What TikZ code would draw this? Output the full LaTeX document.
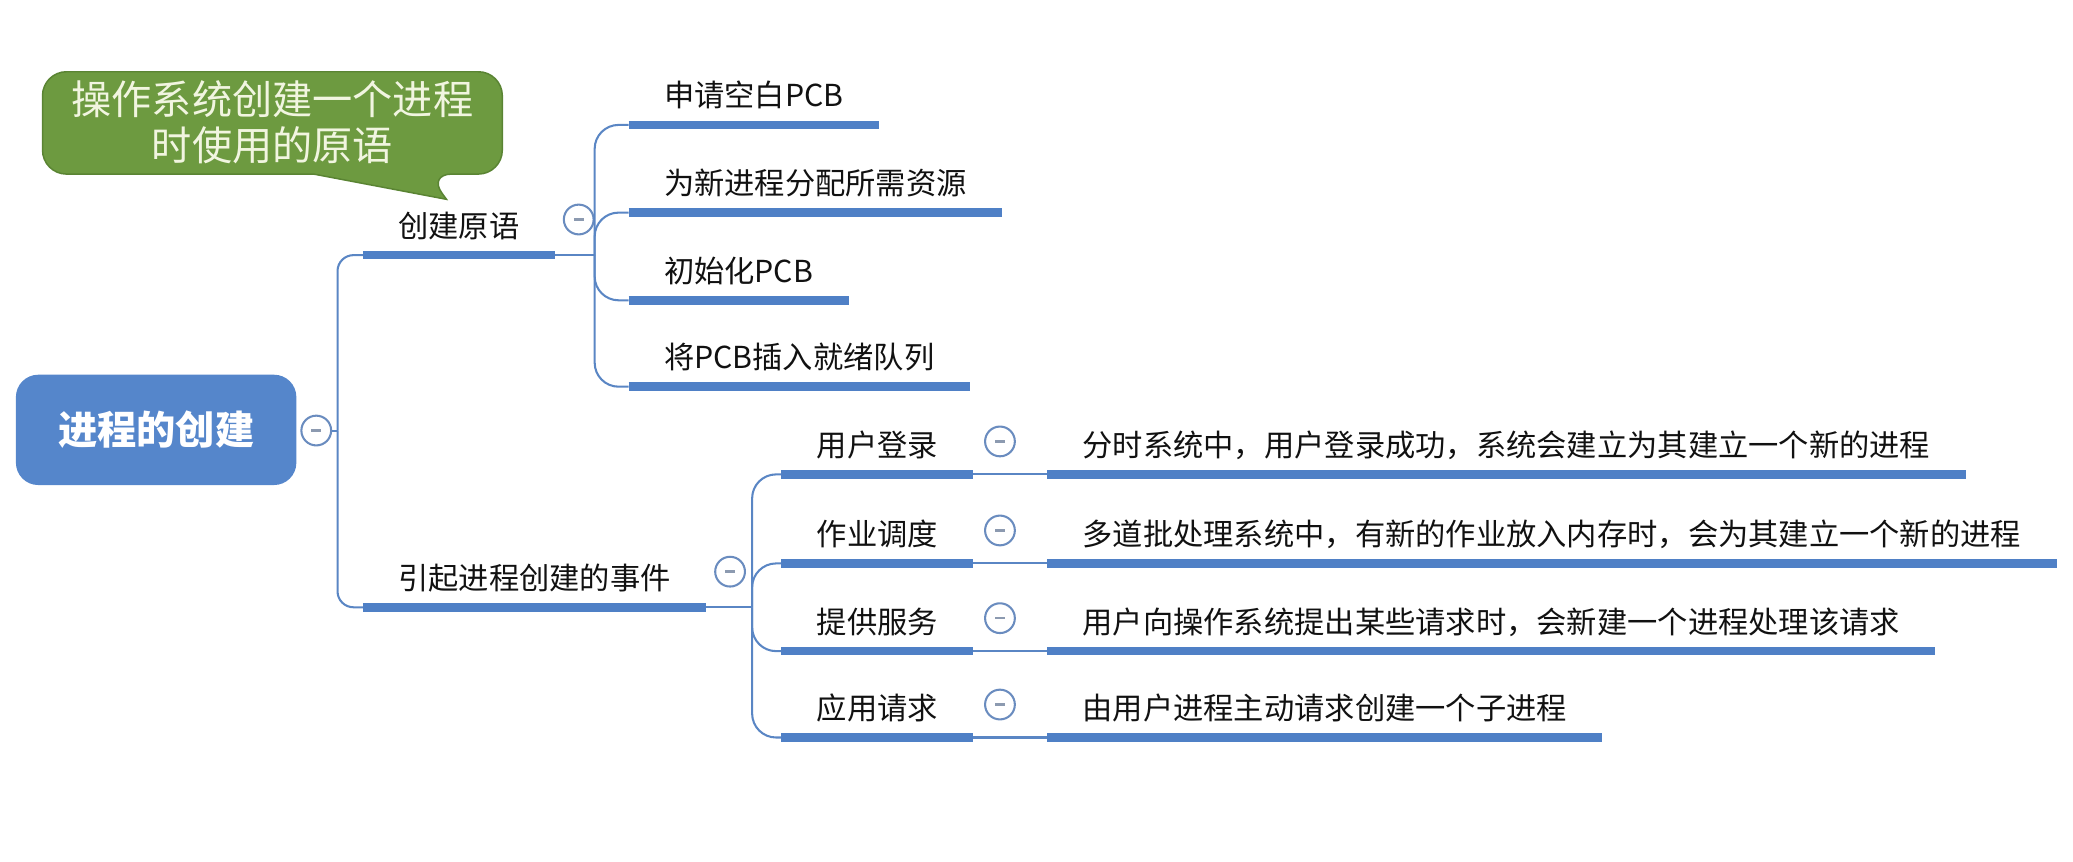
\documentclass[tikz,border=0pt]{standalone}
\usepackage{fontspec}
\setmainfont{Noto Sans CJK SC}
\usetikzlibrary{calc}

\definecolor{barblue}{HTML}{4F80C6}
\definecolor{linkblue}{HTML}{5A86C4}
\definecolor{rootblue}{HTML}{5586CB}
\definecolor{foldring}{HTML}{6A8CBF}
\definecolor{foldbar}{HTML}{8C9AB0}
\definecolor{tipgreen}{HTML}{6D9A40}
\definecolor{tipedge}{HTML}{5A8433}
\definecolor{tipink}{HTML}{F1F5E0}
\definecolor{inkc}{HTML}{111111}

\providecommand{\topicfont}{\fontsize{16.2}{20}\selectfont}
\providecommand{\rootfont}{\fontsize{21}{25}\selectfont}
\providecommand{\tipfont}{\fontsize{21.5}{24.8}\selectfont}

\tikzset{
  bar/.style={draw=barblue, line width=4.6pt},
  conn/.style={draw=linkblue, line width=1.1pt},
  topic/.style={anchor=south west, inner xsep=0.66cm, inner ysep=7.4pt,
    text height=0.85em, text depth=0.2em, font=\topicfont, text=inkc,
    append after command={(\tikzlastnode.south west) edge[bar] (\tikzlastnode.south east)}},
  rootbox/.style={rounded corners=0.42cm, fill=rootblue, text=white,
    font=\rootfont\bfseries, minimum width=5.275cm, minimum height=2.075cm},
  fold/.style={circle, draw=foldring, line width=1.1pt, fill=white,
    minimum size=0.56cm, inner sep=0pt,
    path picture={\draw[foldbar, line width=1.4pt]
      ([xshift=-2.6pt]path picture bounding box.center) --
      ([xshift=2.6pt]path picture bounding box.center);}},
  callout/.style={fill=tipgreen, draw=tipedge, line width=0.8pt},
  tiptext/.style={align=center, font=\tipfont, text=tipink},
}

\begin{document}
\begin{tikzpicture}[x=0.025cm, y=-0.025cm]
  \useasboundingbox (0,0) rectangle (1560,648);

  % callout
  \draw[callout] (236,131) [rounded corners=0.45cm] -- (32,131) -- (32,54)
    -- (378,54) -- (378,131) -- (322,131) [sharp corners] -- (336,150) -- cycle;
  \node[tiptext] (tip) at (205,92) {操作系统创建一个进程\\时使用的原语};

  % root
  \node[rootbox] (root) at (117.5,323.5) {进程的创建};
  \node[fold] (rootfold) at (238,324) {};
  \coordinate (jr) at (254,324);

  % first level
  \node[topic] (cjyy) at (273,192) {创建原语};
  \node[topic] (sjyy) at (273,457) {引起进程创建的事件};
  \node[fold] (cjfold) at ([xshift=0.45cm,yshift=0.67cm]cjyy.south east) {};
  \node[fold] (sjfold) at ([xshift=0.45cm,yshift=0.67cm]sjyy.south east) {};

  \draw[conn] (rootfold.east) -- (jr);
  \draw[conn, rounded corners=0.3cm] (jr) |- (cjyy.south west);
  \draw[conn, rounded corners=0.3cm] (jr) |- (sjyy.south west);

  % primitives
  \node[topic] (c1) at (473,94) {申请空白PCB};
  \node[topic] (c2) at (473,160) {为新进程分配所需资源};
  \node[topic] (c3) at (473,226) {初始化PCB};
  \node[topic] (c4) at (473,291) {将PCB插入就绪队列};

  \coordinate (jc) at ([xshift=0.75cm]cjyy.south east);
  \draw[conn] (cjyy.south east) -- (jc);
  \foreach \k in {c1,c2,c3,c4}
    \draw[conn, rounded corners=0.45cm] (jc) |- (\k.south west);

  % events
  \node[topic] (e1) at (588,357) {用户登录};
  \node[topic] (e2) at (588,424) {作业调度};
  \node[topic] (e3) at (588,490) {提供服务};
  \node[topic] (e4) at (588,555) {应用请求};

  \coordinate (je) at (566,457);
  \draw[conn] (sjyy.south east) -- (je);
  \foreach \k in {e1,e2,e3,e4}
    \draw[conn, rounded corners=0.45cm] (je) |- (\k.south west);

  % details
  \node[topic] (d1) at (788,357) {分时系统中，用户登录成功，系统会建立为其建立一个新的进程};
  \node[topic] (d2) at (788,424) {多道批处理系统中，有新的作业放入内存时，会为其建立一个新的进程};
  \node[topic] (d3) at (788,490) {用户向操作系统提出某些请求时，会新建一个进程处理该请求};
  \node[topic] (d4) at (788,555) {由用户进程主动请求创建一个子进程};

  \foreach \k in {1,2,3,4}{
    \draw[conn] (e\k.south east) -- (d\k.south west);
    \node[fold] (efold\k) at ([xshift=0.5cm,yshift=0.62cm]e\k.south east) {};
  }
\end{tikzpicture}
\end{document}
